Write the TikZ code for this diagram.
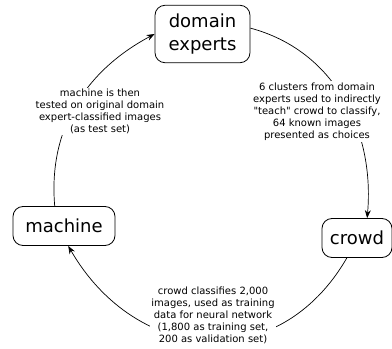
\documentclass[tikz,border=0pt]{standalone}
\usepackage{fontspec}
\setmainfont{DejaVu Sans}[Ligatures=TeXOff]
\usetikzlibrary{arrows.meta}

\begin{document}
\begin{tikzpicture}[
        x=1pt, y=1pt,
        agent/.style={draw, line width=0.8pt, rounded corners=10pt, align=center,
                      font=\fontsize{18}{23}\selectfont, inner xsep=5pt,
                      inner ysep=8.5pt, minimum height=39pt},
        note/.style={fill=white, inner sep=1.5pt, align=center,
                     font=\fontsize{10}{12}\selectfont},
        flow/.style={line width=0.7pt, -{Stealth[length=8pt, width=6pt]}},
    ]
        \useasboundingbox (0,0) rectangle (392,349);

        \node[agent, minimum width=95pt]  (experts) at (202.5,315) {domain\\experts};
        \node[agent, minimum width=102pt] (machine) at (64,123)    {machine};
        \node[agent, minimum width=70pt]  (crowd)   at (357,111)   {crowd};

        \draw[flow] (experts.7) to[out=-15, in=85] (crowd.63);
        \draw[flow] (crowd.243) to[out=240, in=-60, looseness=1.25] (machine.-78);
        \draw[flow] (machine.115) to[out=95, in=208] (experts.west);

        % labels sit on top of the arcs
        \node[note] (teach) at (317,237.5) {6 clusters from domain\\experts used to indirectly\\"teach" crowd to classify,\\64 known images\\presented as choices};
        \node[note] (train) at (213,34) {crowd classifies 2,000\\images, used as training\\data for neural network\\(1,800 as training set,\\200 as validation set)};
        \node[note] (test)  at (100,237.5) {machine is then\\tested on original domain\\expert-classified images\\(as test set)};
\end{tikzpicture}
\end{document}
